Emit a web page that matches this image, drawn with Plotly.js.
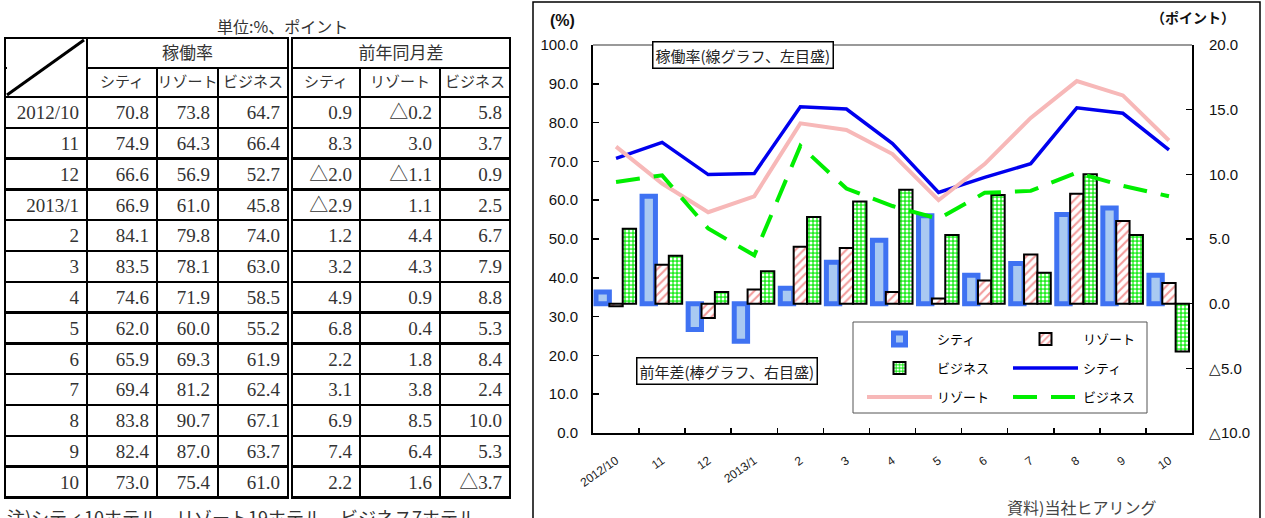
<!DOCTYPE html>
<html><head><meta charset="utf-8">
<script src="https://cdn.plot.ly/plotly-3.0.1.min.js"></script>
<style>html,body{margin:0;padding:0;background:#fff;} #chart{width:1265px;height:518px;}</style>
</head><body><div id="chart"></div>
<script>
// ---- data ----
const months = ['2012/10','11','12','2013/1','2','3','4','5','6','7','8','9','10'];
const seriesNames = ['シティ','リゾート','ビジネス'];
const rateCity   = [70.8,74.9,66.6,66.9,84.1,83.5,74.6,62.0,65.9,69.4,83.8,82.4,73.0];
const rateResort = [73.8,64.3,56.9,61.0,79.8,78.1,71.9,60.0,69.3,81.2,90.7,87.0,75.4];
const rateBiz    = [64.7,66.4,52.7,45.8,74.0,63.0,58.5,55.2,61.9,62.4,67.1,63.7,61.0];
const diffCity   = [0.9,8.3,-2.0,-2.9,1.2,3.2,4.9,6.8,2.2,3.1,6.9,7.4,2.2];
const diffResort = [-0.2,3.0,-1.1,1.1,4.4,4.3,0.9,0.4,1.8,3.8,8.5,6.4,1.6];
const diffBiz    = [5.8,3.7,0.9,2.5,6.7,7.9,8.8,5.3,8.4,2.4,10.0,5.3,-3.7];
const rightTickVals = [-10,-5,0,5,10,15,20];
const rightTickText = ['△10.0','△5.0','0.0','5.0','10.0','15.0','20.0'];
const groupHeaders = ['稼働率','前年同月差'];

// ---- layout helpers ----
const W = 1265, H = 518;
const px = x => x / W;
const py = y => 1 - y / H;
const serif = '"Liberation Serif", "Noto Sans CJK JP", serif';
const jp = '"Noto Sans CJK JP", sans-serif';
const sans = '"Liberation Sans", Arial, sans-serif';
const fmt = v => v.toFixed(1);
const fmtDiff = v => v < 0 ? '△' + Math.abs(v).toFixed(1) : v.toFixed(1);
const tline = {color:'#000', width:2.5};
const tfill = {color:'#fff'};

const T = {left:5, splitL:288, splitR:292, right:510, top:38, h1:30, h2:29, row:30.8};

const traces = [];
// table: first header row
traces.push({
  type:'table', domain:{x:[px(T.left), px(T.splitL)], y:[py(T.top + T.h1 + 3), py(T.top)]},
  columnwidth:[82, 201],
  header:{values:['', groupHeaders[0]], height:T.h1, align:'center', line:tline, fill:tfill,
          font:{family:jp, size:17, color:'#333'}},
  cells:{values:[]}
});
traces.push({
  type:'table', domain:{x:[px(T.splitR), px(T.right)], y:[py(T.top + T.h1 + 3), py(T.top)]},
  columnwidth:[218],
  header:{values:[groupHeaders[1]], height:T.h1, align:'center', line:tline, fill:tfill,
          font:{family:jp, size:17, color:'#333'}},
  cells:{values:[]}
});
// table body left
traces.push({
  type:'table', domain:{x:[px(T.left), px(T.splitL)], y:[py(508), py(T.top + T.h1)]},
  columnwidth:[82, 70, 61, 70],
  header:{values:[''].concat(seriesNames), height:T.h2, align:'center', line:tline, fill:tfill,
          font:{family:jp, size:15, color:'#333'}},
  cells:{values:[months, rateCity.map(fmt), rateResort.map(fmt), rateBiz.map(fmt)],
         height:T.row, align:'right', line:tline, fill:tfill,
         font:{family:serif, size:19, color:'#333'}}
});
// table body right
traces.push({
  type:'table', domain:{x:[px(T.splitR), px(T.right)], y:[py(508), py(T.top + T.h1)]},
  columnwidth:[68, 80, 70],
  header:{values:seriesNames, height:T.h2, align:'center', line:tline, fill:tfill,
          font:{family:jp, size:15, color:'#333'}},
  cells:{values:[diffCity.map(fmtDiff), diffResort.map(fmtDiff), diffBiz.map(fmtDiff)],
         height:T.row, align:'right', line:tline, fill:tfill,
         font:{family:serif, size:19, color:'#333'}}
});

// chart: bars (right axis, yaxis) and lines (left axis, yaxis2)
traces.push({type:'bar', name:seriesNames[0], x:months, y:diffCity, yaxis:'y', xaxis:'x',
  marker:{color:'#a9c9f2', line:{color:'#3f72f2', width:5}}, legend:'legend'});
traces.push({type:'bar', name:seriesNames[1], x:months, y:diffResort, yaxis:'y', xaxis:'x',
  marker:{color:'#fff', pattern:{shape:'/', fgcolor:'#f29a9a', bgcolor:'#fff', size:6, solidity:0.35},
          line:{color:'#000', width:2}}, legend:'legend'});
traces.push({type:'bar', name:seriesNames[2], x:months, y:diffBiz, yaxis:'y', xaxis:'x',
  marker:{color:'#22ee22', pattern:{shape:'.', fgcolor:'#fff', bgcolor:'#22ee22', size:4, solidity:0.45},
          line:{color:'#000', width:2}}, legend:'legend2'});
traces.push({type:'scatter', mode:'lines', name:seriesNames[0], x:months, y:rateCity, yaxis:'y2', xaxis:'x',
  line:{color:'#0000ee', width:3.5}, legend:'legend2'});
traces.push({type:'scatter', mode:'lines', name:seriesNames[1], x:months, y:rateResort, yaxis:'y2', xaxis:'x',
  line:{color:'#f7b8b8', width:4}, legend:'legend3'});
traces.push({type:'scatter', mode:'lines', name:seriesNames[2], x:months, y:rateBiz, yaxis:'y2', xaxis:'x',
  line:{color:'#00ee00', width:4, dash:'24px,14px'}, legend:'legend3'});

const legendBase = {orientation:'h', xanchor:'left', yanchor:'middle', x:px(862),
  bgcolor:'rgba(0,0,0,0)', borderwidth:0, itemwidth:65, entrywidth:66,
  font:{family:jp, size:13, color:'#000'}};

const ann = (text, x, y, font, extra) => Object.assign({text, xref:'paper', yref:'paper', x:px(x), y:py(y),
  xanchor:'center', yanchor:'middle', showarrow:false, font}, extra || {});

const layout = {
  width:W, height:H, margin:{l:0, r:0, t:0, b:0},
  paper_bgcolor:'#fff', plot_bgcolor:'#fff',
  barmode:'group', bargap:0.13, bargroupgap:0,
  showlegend:true,
  legend:Object.assign({}, legendBase, {y:py(339)}),
  legend2:Object.assign({}, legendBase, {y:py(368)}),
  legend3:Object.assign({}, legendBase, {y:py(397)}),
  xaxis:{type:'category', categoryorder:'array', categoryarray:months,
    domain:[px(593), px(1192)], anchor:'y',
    tickson:'boundaries', ticks:'inside', ticklen:5, tickwidth:1.5, tickcolor:'#000',
    showline:true, linecolor:'#000', linewidth:2, showgrid:false,
    tickangle:-35, ticklabelstandoff:14,
    tickfont:{family:sans, size:12, color:'#222'}},
  yaxis:{domain:[py(433), py(45)], side:'right', anchor:'x', range:[-10, 20],
    tickmode:'array', tickvals:rightTickVals, ticktext:rightTickText,
    ticks:'inside', ticklen:6, tickwidth:1.5, tickcolor:'#000',
    showline:true, linecolor:'#000', linewidth:2, showgrid:false, zeroline:false,
    ticklabelstandoff:12, tickfont:{family:sans, size:15, color:'#111'}},
  yaxis2:{overlaying:'y', side:'left', anchor:'x', range:[0, 100], dtick:10, tickformat:'.1f',
    ticks:'inside', ticklen:6, tickwidth:1.5, tickcolor:'#000',
    showline:true, linecolor:'#000', linewidth:2, showgrid:false, zeroline:false,
    ticklabelstandoff:10, tickfont:{family:sans, size:15, color:'#111'}},
  shapes:[
    // chart frame
    {type:'rect', xref:'paper', yref:'paper', x0:px(533), x1:px(1260), y0:py(530), y1:py(2),
     line:{color:'#000', width:1.5}, fillcolor:'rgba(0,0,0,0)', layer:'below'},
    // plot top border
    {type:'line', xref:'x domain', yref:'y domain', x0:0, x1:1, y0:1, y1:1,
     line:{color:'#777', width:1.5}},
    // legend box
    {type:'rect', xref:'paper', yref:'paper', x0:px(853), x1:px(1147), y0:py(413), y1:py(322),
     line:{color:'#555', width:1}, fillcolor:'#fff', layer:'below'},
    // merge corner cell of table
    {type:'rect', xref:'paper', yref:'paper', x0:px(T.left + 2), x1:px(86), y0:py(T.top + T.h1 + 1.8), y1:py(T.top + T.h1 - 1.8),
     line:{width:0}, fillcolor:'#fff', layer:'above'},
    {type:'line', xref:'paper', yref:'paper', x0:px(7), y0:py(95), x1:px(84), y1:py(40),
     line:{color:'#000', width:3}, layer:'above'}
  ],
  annotations:[
    ann('単位:%、ポイント', 282, 26, {family:jp, size:16, color:'#333'}),
    ann('注)シティ10ホテル、リゾート19ホテル、ビジネス7ホテル', 5, 502, {family:jp, size:18, color:'#333'},
        {xanchor:'left', yanchor:'top'}),
    ann('<b>(%)</b>', 562, 20, {family:sans, size:16, color:'#111'}),
    ann('<b>（ポイント）</b>', 1193, 17, {family:jp, size:14, color:'#111'}),
    ann('稼働率(線グラフ、左目盛)', 743, 55.5, {family:jp, size:15, color:'#222'},
        {bordercolor:'#000', borderwidth:1.5, borderpad:2, bgcolor:'#fff'}),
    ann('前年差(棒グラフ、右目盛)', 727, 370.5, {family:jp, size:15, color:'#222'},
        {bordercolor:'#000', borderwidth:1.5, borderpad:2, bgcolor:'#fff'}),
    ann('資料)当社ヒアリング', 1081, 507, {family:jp, size:16, color:'#444'})
  ]
};

Plotly.newPlot('chart', traces, layout, {staticPlot:true, displayModeBar:false});
</script>
</body></html>
